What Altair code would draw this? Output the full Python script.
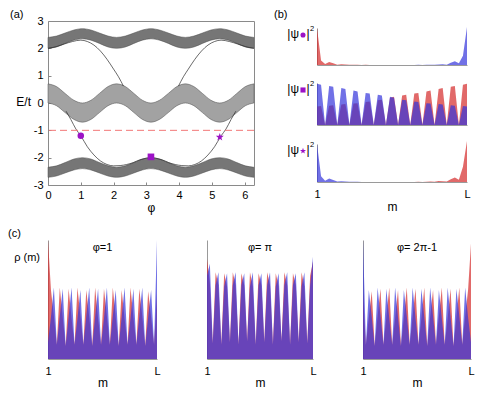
import altair as alt
import pandas as pd

FONT = "Liberation Sans"
RED = "#d42a2a"
BLUE = "#3434dc"
MARKER = "#9c12c6"
BAND_DARK = "#767676"
BAND_MID = "#a2a2a2"
BAND_EDGE = "#4a4a4a"
FRAME = "#8a8a8a"
AX = "#9a9a9a"
STAR = ("M0,-1L0.235,-0.324L0.951,-0.309L0.38,0.124L0.588,0.809L0,0.4"
        "L-0.588,0.809L-0.38,0.124L-0.951,-0.309L-0.235,-0.324Z")

# ---------------- panel (a): spectrum E/t versus phi ----------------
phi = [0.00, 0.26, 0.52, 0.79, 1.05, 1.31, 1.57, 1.83, 2.09, 2.36, 2.62, 2.88,
       3.14, 3.40, 3.67, 3.93, 4.19, 4.45, 4.71, 4.97, 5.24, 5.50, 5.76, 6.02, 6.28]
upper_top = [2.40, 2.45, 2.56, 2.67, 2.72, 2.67, 2.56, 2.45, 2.40, 2.45, 2.56, 2.67,
             2.72, 2.67, 2.56, 2.45, 2.40, 2.45, 2.56, 2.67, 2.72, 2.67, 2.56, 2.45, 2.40]
upper_bot = [2.00, 2.05, 2.18, 2.30, 2.35, 2.30, 2.18, 2.05, 2.00, 2.05, 2.18, 2.30,
             2.35, 2.30, 2.18, 2.05, 2.00, 2.05, 2.18, 2.30, 2.35, 2.30, 2.18, 2.05, 2.00]
mid_top = [0.70, 0.60, 0.35, 0.10, 0.00, 0.10, 0.35, 0.60, 0.70, 0.60, 0.35, 0.10,
           0.00, 0.10, 0.35, 0.60, 0.70, 0.60, 0.35, 0.10, 0.00, 0.10, 0.35, 0.60, 0.70]
mid_bot = [0.00, -0.10, -0.35, -0.60, -0.70, -0.60, -0.35, -0.10, 0.00, -0.10, -0.35, -0.60,
           -0.70, -0.60, -0.35, -0.10, 0.00, -0.10, -0.35, -0.60, -0.70, -0.60, -0.35, -0.10, 0.00]
lower_top = [-2.35, -2.30, -2.18, -2.05, -2.00, -2.05, -2.18, -2.30, -2.35, -2.30, -2.18, -2.05,
             -2.00, -2.05, -2.18, -2.30, -2.35, -2.30, -2.18, -2.05, -2.00, -2.05, -2.18, -2.30, -2.35]
lower_bot = [-2.72, -2.67, -2.56, -2.45, -2.40, -2.45, -2.56, -2.67, -2.72, -2.67, -2.56, -2.45,
             -2.40, -2.45, -2.56, -2.67, -2.72, -2.67, -2.56, -2.45, -2.40, -2.45, -2.56, -2.67, -2.72]

# edge states in the gaps
hi_left_phi = [0.00, 0.25, 0.50, 0.75, 1.00, 1.20, 1.40, 1.60, 1.80, 2.00, 2.15, 2.30]
hi_left_E = [2.00, 2.06, 2.16, 2.25, 2.30, 2.25, 2.12, 1.90, 1.60, 1.24, 0.96, 0.62]
hi_right_phi = [3.98, 4.13, 4.28, 4.48, 4.68, 4.88, 5.08, 5.28, 5.53, 5.78, 6.03, 6.28]
hi_right_E = [0.62, 0.96, 1.24, 1.60, 1.90, 2.12, 2.25, 2.30, 2.25, 2.16, 2.06, 2.00]
lo_phi = [0.55, 0.70, 0.85, 1.00, 1.20, 1.40, 1.60, 1.80, 2.00, 2.20, 2.40, 2.60, 2.80, 3.00,
          3.14, 3.28, 3.48, 3.68, 3.88, 4.08, 4.28, 4.48, 4.68, 4.88, 5.08, 5.28, 5.43, 5.58, 5.73]
lo_E = [-0.30, -0.61, -0.95, -1.20, -1.60, -1.90, -2.12, -2.25, -2.30, -2.29, -2.25, -2.18, -2.08, -2.02,
        -2.00, -2.02, -2.08, -2.18, -2.25, -2.29, -2.30, -2.25, -2.12, -1.90, -1.60, -1.20, -0.95, -0.61, -0.30]

fermi_E = [-1.0]
mark_circle = (1.00, -1.20)
mark_square = (3.14, -1.97)
mark_star = (5.24, -1.25)

# ---------------- panel (b): |psi|^2 of the three marked states ----------------
L = 38
sites = list(range(1, L + 1))
b1_red = [1.00, 0.12, 0.03, 0.08, 0.05, 0.01, 0.02, 0.015, 0.004, 0.008,
          0.006, 0.002, 0.004, 0.003, 0.001, 0.002, 0.002, 0.001, 0.001, 0.001,
          0, 0, 0, 0, 0, 0, 0, 0, 0, 0, 0, 0, 0, 0, 0, 0, 0, 0]
b1_blue = [0, 0, 0, 0, 0, 0, 0, 0, 0, 0, 0, 0, 0, 0, 0, 0, 0, 0,
           0.001, 0.001, 0.001, 0.002, 0.002, 0.001, 0.003, 0.004, 0.002, 0.006,
           0.008, 0.004, 0.015, 0.02, 0.01, 0.06, 0.10, 0.05, 0.25, 1.03]
b2_blue = [0.98, 0.96, 0.0, 0.93, 0.91, 0.0, 0.88, 0.86, 0.0, 0.82, 0.80, 0.0,
           0.76, 0.75, 0.0, 0.72, 0.70, 0.0, 0.67, 0.65, 0.0, 0.60, 0.59, 0.0,
           0.56, 0.55, 0.0, 0.52, 0.51, 0.0, 0.50, 0.49, 0.0, 0.47, 0.46, 0.0,
           0.45, 0.44]
b2_red = [0.44, 0.45, 0.0, 0.46, 0.47, 0.0, 0.49, 0.50, 0.0, 0.51, 0.52, 0.0,
          0.55, 0.56, 0.0, 0.59, 0.60, 0.0, 0.65, 0.67, 0.0, 0.70, 0.72, 0.0,
          0.75, 0.76, 0.0, 0.80, 0.82, 0.0, 0.86, 0.88, 0.0, 0.91, 0.93, 0.0,
          0.96, 0.98]
b3_blue = [1.00, 0.15, 0.03, 0.09, 0.05, 0.01, 0.02, 0.012, 0.004, 0.007,
           0.005, 0.002, 0.003, 0.002, 0.001, 0.001, 0.001, 0.001, 0.001,
           0, 0, 0, 0, 0, 0, 0, 0, 0, 0, 0, 0, 0, 0, 0, 0, 0, 0, 0]
b3_red = [0, 0, 0, 0, 0, 0, 0, 0, 0, 0, 0, 0, 0, 0, 0, 0, 0, 0, 0,
          0.001, 0.001, 0.001, 0.002, 0.002, 0.003, 0.005, 0.003, 0.007, 0.012,
          0.005, 0.025, 0.02, 0.01, 0.07, 0.12, 0.06, 0.40, 1.08]

# ---------------- panel (c): densities rho(m) ----------------
c1_red = [1.00,
          0.58, 0.36, 0.12, 0.60, 0.35, 0.11, 0.59, 0.34, 0.12, 0.60, 0.36, 0.12,
          0.58, 0.35, 0.11, 0.60, 0.34, 0.12, 0.59, 0.36, 0.12, 0.60, 0.35, 0.11,
          0.58, 0.34, 0.12, 0.60, 0.35, 0.12, 0.59, 0.36, 0.11, 0.57, 0.35, 0.12,
          0.55]
c1_blue = [0.14,
           0.35, 0.60, 0.12, 0.36, 0.59, 0.11, 0.35, 0.60, 0.12, 0.34, 0.58, 0.12,
           0.36, 0.60, 0.11, 0.35, 0.59, 0.12, 0.34, 0.60, 0.12, 0.36, 0.58, 0.11,
           0.35, 0.60, 0.12, 0.34, 0.59, 0.12, 0.36, 0.60, 0.11, 0.35, 0.58, 0.12,
           1.00]
c2_red = [0.84, 0.64, 0.13,
          0.73, 0.62, 0.12, 0.72, 0.61, 0.14, 0.73, 0.62, 0.12, 0.72, 0.62, 0.15,
          0.73, 0.61, 0.12, 0.72, 0.62, 0.14, 0.73, 0.62, 0.12, 0.72, 0.61, 0.15,
          0.73, 0.62, 0.12, 0.72, 0.62, 0.14, 0.73, 0.61, 0.13,
          0.70, 0.82]
c2_blue = [0.70, 0.80, 0.13,
           0.62, 0.73, 0.12, 0.61, 0.72, 0.14, 0.62, 0.73, 0.12, 0.62, 0.72, 0.15,
           0.61, 0.73, 0.12, 0.62, 0.72, 0.14, 0.62, 0.73, 0.12, 0.61, 0.72, 0.15,
           0.62, 0.73, 0.12, 0.62, 0.72, 0.14, 0.61, 0.73, 0.13,
           0.62, 0.86]
c3_red = [0.55,
          0.12, 0.35, 0.57, 0.11, 0.36, 0.59, 0.12, 0.35, 0.60, 0.12, 0.34, 0.58,
          0.11, 0.35, 0.60, 0.12, 0.36, 0.59, 0.12, 0.34, 0.60, 0.11, 0.35, 0.58,
          0.12, 0.36, 0.60, 0.12, 0.34, 0.59, 0.11, 0.35, 0.60, 0.12, 0.36, 0.58,
          0.97]
c3_blue = [1.00,
           0.12, 0.58, 0.35, 0.11, 0.60, 0.36, 0.12, 0.59, 0.34, 0.12, 0.60, 0.35,
           0.11, 0.58, 0.36, 0.12, 0.60, 0.34, 0.12, 0.59, 0.35, 0.11, 0.60, 0.36,
           0.12, 0.58, 0.34, 0.12, 0.60, 0.35, 0.11, 0.59, 0.36, 0.12, 0.60, 0.35,
           0.14]


def txt(s, x, y, align="left", baseline="top", size=11, opacity=1.0):
    return alt.Chart(pd.DataFrame({"t": [s]})).mark_text(
        align=align, baseline=baseline, fontSize=size, font=FONT,
        color="black", opacity=opacity
    ).encode(x=alt.value(x), y=alt.value(y), text="t:N")


def sym(shape, x, y, size):
    return alt.Chart(pd.DataFrame({"k": [0]})).mark_point(
        shape=shape, filled=True, size=size, color=MARKER, opacity=1
    ).encode(x=alt.value(x), y=alt.value(y))


# ---------------- build panel (a) ----------------
A_W, A_H = 206, 164
xsc = alt.Scale(domain=[0, 6.2832], nice=False, zero=False)
ysc = alt.Scale(domain=[-3, 3], nice=False, zero=False)
ax_x = alt.Axis(values=[0, 1, 2, 3, 4, 5, 6], labelExpr="datum.value + ''", title="φ",
                offset=-3, tickSize=3, tickColor=FRAME, domain=False, labelPadding=4,
                titlePadding=2, labelFlush=False, labelOverlap=False)
ax_y = alt.Axis(values=[-3, -2, -1, 0, 1, 2, 3], labelExpr="datum.value + ''", title=None,
                offset=-3, tickSize=3, tickColor=FRAME, domain=False, labelPadding=5,
                labelFlush=False, labelOverlap=False)


def X(field):
    return alt.X(field, scale=xsc, axis=ax_x)


def Y(field):
    return alt.Y(field, scale=ysc, axis=ax_y)


band_df = pd.DataFrame({"phi": phi, "ut": upper_top, "ub": upper_bot, "mt": mid_top,
                        "mb": mid_bot, "lt": lower_top, "lb": lower_bot})
bands = alt.Chart(band_df)
up_band = bands.mark_area(interpolate="monotone", color=BAND_DARK, stroke=BAND_EDGE,
                          strokeWidth=0.5).encode(x=X("phi:Q"), y=Y("ub:Q"), y2="ut:Q")
mid_band = bands.mark_area(interpolate="monotone", color=BAND_MID, stroke=BAND_EDGE,
                           strokeWidth=0.5).encode(x=X("phi:Q"), y=Y("mb:Q"), y2="mt:Q")
low_band = bands.mark_area(interpolate="monotone", color=BAND_DARK, stroke=BAND_EDGE,
                           strokeWidth=0.5).encode(x=X("phi:Q"), y=Y("lb:Q"), y2="lt:Q")


def edge_line(px, ey):
    return alt.Chart(pd.DataFrame({"phi": px, "E": ey})).mark_line(
        interpolate="monotone", color="#2a2a2a", strokeWidth=0.7).encode(
        x=X("phi:Q"), y=Y("E:Q"))


fermi = alt.Chart(pd.DataFrame({"E": fermi_E})).mark_rule(
    color="#f27878", strokeDash=[7, 4], strokeWidth=1).encode(y=Y("E:Q"))


def a_marker(shape, pt, size):
    return alt.Chart(pd.DataFrame({"phi": [pt[0]], "E": [pt[1]]})).mark_point(
        shape=shape, filled=True, size=size, color=MARKER, opacity=1).encode(
        x=X("phi:Q"), y=Y("E:Q"))


panel_a = alt.layer(
    up_band, mid_band, low_band,
    edge_line(hi_left_phi, hi_left_E), edge_line(hi_right_phi, hi_right_E), edge_line(lo_phi, lo_E),
    fermi,
    a_marker("circle", mark_circle, 42), a_marker("square", mark_square, 44), a_marker(STAR, mark_star, 70),
    txt("(a)", -38, -12), txt("E/t", -17, 81, align="right", baseline="middle", size=12),
).properties(width=A_W, height=A_H, view=alt.ViewBackground(stroke=FRAME, strokeWidth=1))

# ---------------- build panel (b) ----------------
m_scale = alt.Scale(domain=[1, L], nice=False, zero=False)
v_scale = alt.Scale(domain=[0, 1], nice=False, zero=True)


def b_panel(red, blue, h, shape, msize, last=False):
    df = pd.DataFrame({"m": sites, "r": red, "b": blue})
    if last:
        xa = alt.Axis(values=[1, L], labelExpr="datum.value == 1 ? '1' : 'L'", title="m",
                      ticks=False, domainColor=AX, labelPadding=6, titlePadding=2,
                      labelFlush=False, labelOverlap=False)
    else:
        xa = alt.Axis(labels=False, ticks=False, title=None, domainColor=AX)
    ya = alt.Axis(labels=False, ticks=False, title=None, domainColor=AX)
    r = alt.Chart(df).mark_area(color=RED, opacity=0.7).encode(
        x=alt.X("m:Q", scale=m_scale, axis=xa), y=alt.Y("r:Q", scale=v_scale, axis=ya))
    b = alt.Chart(df).mark_area(color=BLUE, opacity=0.7).encode(
        x=alt.X("m:Q", scale=m_scale, axis=xa), y=alt.Y("b:Q", scale=v_scale, axis=ya))
    layers = [r, b,
              txt("|ψ", -18, 10, align="right", baseline="alphabetic", size=12),
              sym(shape, -14, 7, msize),
              txt("|", -10.5, 10, baseline="alphabetic", size=12),
              txt("2", -7, 3, baseline="alphabetic", size=7.5)]
    return alt.layer(*layers).properties(width=150, height=h)


b_head = txt("(b)", -43, -12).properties(width=150, height=1)
b1 = b_panel(b1_red, b1_blue, 37, "circle", 26)
b2 = b_panel(b2_red, b2_blue, 42, "square", 26)
b3 = b_panel(b3_red, b3_blue, 38, STAR, 40, last=True)
panel_b = alt.vconcat(b_head, alt.vconcat(b1, b2, b3, spacing=15), spacing=3)

# ---------------- build panel (c) ----------------
C_H = 119


def c_panel(red, blue, title, w, first=False):
    df = pd.DataFrame({"m": sites, "r": red, "b": blue})
    xa = alt.Axis(values=[1, L], labelExpr="datum.value == 1 ? '1' : 'L'", title="m",
                  ticks=False, domainColor=AX, labelPadding=6, titlePadding=1,
                  labelFlush=False, labelOverlap=False)
    ya = alt.Axis(labels=False, ticks=False, title=None, domainColor=AX)
    r = alt.Chart(df).mark_area(color=RED, opacity=0.7).encode(
        x=alt.X("m:Q", scale=m_scale, axis=xa), y=alt.Y("r:Q", scale=v_scale, axis=ya))
    b = alt.Chart(df).mark_area(color=BLUE, opacity=0.7).encode(
        x=alt.X("m:Q", scale=m_scale, axis=xa), y=alt.Y("b:Q", scale=v_scale, axis=ya))
    layers = [r, b, txt(title, w / 2, 8, align="center", baseline="middle", size=11)]
    if first:
        layers += [txt("(c)", -40, -12),
                   txt("ρ (m)", -8, 18, align="right", baseline="middle", size=11)]
    return alt.layer(*layers).properties(width=w, height=C_H)


c1 = c_panel(c1_red, c1_blue, "φ=1", 109, first=True)
c2 = c_panel(c2_red, c2_blue, "φ= π", 106)
c3 = c_panel(c3_red, c3_blue, "φ= 2π-1", 108)

row1 = alt.hconcat(panel_a, panel_b, spacing=18)
row2 = alt.hconcat(c1, c2, c3, spacing=42)

chart = alt.vconcat(row1, row2, spacing=14).properties(padding=0).configure_view(
    stroke=None
).configure_axis(
    grid=False, labelFont=FONT, titleFont=FONT, labelFontSize=11, titleFontSize=12,
    titleFontWeight="normal", labelColor="black", titleColor="black", domainColor=AX
).configure_text(font=FONT)

chart.save("out.html", embed_options={"renderer": "svg", "actions": False})
